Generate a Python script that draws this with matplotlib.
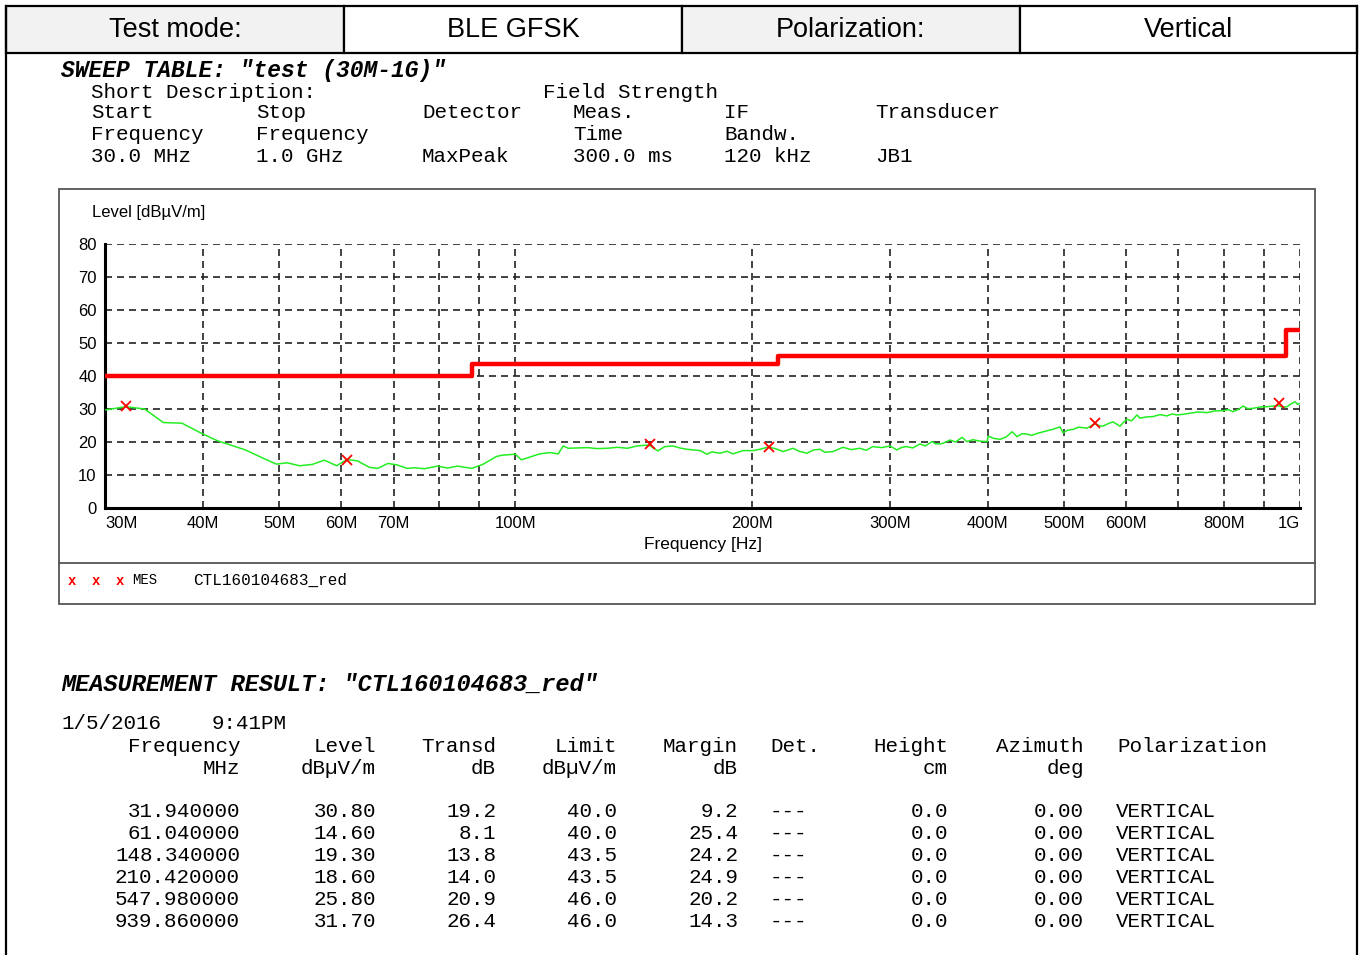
import matplotlib
matplotlib.use("Agg")
import matplotlib.pyplot as plt
from matplotlib.patches import Rectangle
from matplotlib.ticker import FixedLocator, NullLocator

W, H = 1362, 955

# header cells
head_labels = ["Test mode:", "BLE GFSK", "Polarization:", "Vertical"]

trace_freq = [30.0, 31.9, 33.7, 35.6, 37.6, 40.0, 41.7, 45.3, 47.6, 49.6,
              51.2, 53.1, 55.1, 57.1, 59.2, 61.0, 62.9, 65.2, 66.8, 68.8,
              70.6, 72.8, 74.3, 76.6, 79.6, 82.0, 84.4, 88.0, 90.9, 94.6,
              96.2, 100.0, 101.8, 107.4, 110.7, 113.4, 115.1, 116.8, 123.6, 127.0,
              131.0, 135.0, 138.9, 142.9, 148.0, 151.9, 155.1, 158.8, 162.0, 165.4,
              172.0, 175.5, 178.0, 182.4, 186.0, 189.4, 195.1, 200.9, 205.0, 210.4,
              215.0, 219.4, 225.9, 230.0, 235.4, 240.0, 244.5, 248.0, 254.0, 261.5,
              268.0, 274.8, 280.0, 285.5, 293.0, 300.3, 306.4, 311.0, 315.5, 321.0,
              327.8, 333.0, 339.6, 343.0, 347.6, 350.8, 358.1, 364.0, 370.9, 376.4,
              383.0, 390.0, 399.3, 400.5, 407.0, 414.8, 422.0, 429.7, 436.0, 442.0,
              448.9, 455.0, 462.2, 469.0, 476.0, 485.0, 494.5, 498.9, 506.0, 513.8,
              522.0, 535.3, 548.0, 555.0, 561.0, 570.0, 577.7, 589.7, 596.0, 601.9,
              610.0, 619.8, 625.3, 637.0, 649.6, 663.0, 676.9, 687.0, 697.0, 710.0,
              724.1, 742.0, 761.2, 779.0, 797.9, 810.0, 821.6, 835.0, 846.1, 858.0,
              871.3, 889.0, 907.8, 925.0, 939.9, 950.0, 962.7, 975.0, 985.5, 993.0,
              1000.0]
trace_level = [29.7, 30.7, 30.0, 25.9, 25.7, 22.4, 20.4, 17.6, 15.2, 13.3,
               13.7, 12.8, 13.2, 14.5, 12.8, 14.7, 14.3, 12.3, 12.0, 13.5,
               13.1, 12.0, 12.2, 11.9, 12.7, 12.1, 12.7, 12.0, 13.2, 15.6,
               16.0, 16.3, 14.6, 16.4, 16.8, 16.4, 18.8, 18.1, 18.3, 18.0,
               18.1, 18.4, 18.1, 18.8, 19.1, 17.3, 18.6, 18.8, 18.2, 17.8,
               17.4, 16.3, 17.0, 16.6, 17.2, 16.4, 17.4, 17.4, 17.8, 18.5,
               17.9, 17.1, 18.1, 17.2, 16.6, 17.6, 17.8, 16.9, 17.1, 18.4,
               17.7, 18.1, 17.5, 18.6, 18.3, 18.8, 17.6, 18.4, 18.6, 18.2,
               19.4, 18.8, 20.1, 19.5, 19.4, 19.6, 20.6, 20.0, 21.4, 20.1,
               20.7, 20.3, 20.1, 21.8, 21.1, 20.8, 21.5, 23.1, 21.6, 22.5,
               22.4, 22.0, 22.6, 23.0, 23.4, 23.9, 24.6, 22.8, 23.6, 23.8,
               24.5, 24.2, 25.6, 24.9, 24.8, 25.6, 26.1, 24.8, 26.0, 26.9,
               26.4, 28.2, 27.2, 27.6, 27.7, 28.3, 27.9, 28.5, 28.2, 28.4,
               28.7, 29.1, 28.9, 29.4, 29.5, 29.8, 29.2, 29.9, 30.9, 30.1,
               30.2, 30.6, 30.7, 30.9, 31.0, 30.5, 30.7, 31.6, 32.2, 31.4,
               31.7]

# limit line (FCC class B, 3 m)
limit_freq = [30, 88, 216, 960, 1000]
limit_level = [40, 43.5, 46, 54, 54]

# final measurement table
mes_freq = [31.94, 61.04, 148.34, 210.42, 547.98, 939.86]
mes_level = [30.80, 14.60, 19.30, 18.60, 25.80, 31.70]
mes_transd = [19.2, 8.1, 13.8, 14.0, 20.9, 26.4]
mes_limit = [40.0, 40.0, 43.5, 43.5, 46.0, 46.0]
mes_margin = [9.2, 25.4, 24.2, 24.9, 20.2, 14.3]

grid_freq = [40, 50, 60, 70, 80, 90, 100, 200, 300, 400, 500, 600, 700, 800, 900, 1000]
tick_freq = [30, 40, 50, 60, 70, 100, 200, 300, 400, 500, 600, 800, 1000]
tick_text = ["30M", "40M", "50M", "60M", "70M", "100M", "200M", "300M",
             "400M", "500M", "600M", "800M", "1G"]

narrow = ["Liberation Sans Narrow", "Liberation Sans", "DejaVu Sans"]
mono = ["Liberation Mono", "DejaVu Sans Mono"]
sans = ["Liberation Sans", "DejaVu Sans"]

fig = plt.figure(figsize=(W / 100, H / 100), dpi=100)
bg = fig.add_axes([0, 0, 1, 1])
bg.set_xlim(0, W)
bg.set_ylim(H, 0)
bg.axis("off")

# page frame + header table
bg.plot([6, 6], [6, H], color="black", lw=1.6)
bg.plot([1357, 1357], [6, H], color="black", lw=1.6)
cells = [6, 344, 682, 1020, 1357]
for i, lab in enumerate(head_labels):
    fc = "#f2f2f2" if i % 2 == 0 else "white"
    bg.add_patch(Rectangle((cells[i], 6), cells[i + 1] - cells[i], 47,
                           facecolor=fc, edgecolor="black", lw=1.6))
    bg.text((cells[i] + cells[i + 1]) / 2, 30, lab, fontsize=19.5, family=narrow,
            ha="center", va="center")

# sweep table text
def mtxt(x, y, s, size=15, **kw):
    bg.text(x, y, s, fontsize=size, family=mono, va="center", **kw)

mtxt(61, 70, 'SWEEP TABLE: "test (30M-1G)"', size=16.5, weight="bold", style="italic")
mtxt(91, 92, "Short Description:")
mtxt(543, 92, "Field Strength")
for x, s in zip([91, 256, 422, 573, 724, 875],
                ["Start", "Stop", "Detector", "Meas.", "IF", "Transducer"]):
    mtxt(x, 113, s)
for x, s in zip([91, 256, 573, 724], ["Frequency", "Frequency", "Time", "Bandw."]):
    mtxt(x, 135, s)
for x, s in zip([91, 256, 422, 573, 724, 875],
                ["30.0 MHz", "1.0 GHz", "MaxPeak", "300.0 ms", "120 kHz", "JB1"]):
    mtxt(x, 157, s)

# chart frame and legend strip
bg.add_patch(Rectangle((59, 189), 1256, 415, facecolor="none", edgecolor="#555555", lw=1.3))
bg.plot([59, 1315], [563, 563], color="#555555", lw=1.3)
for x in [72, 96, 120]:
    bg.text(x, 581, "x", color="red", fontsize=10, family=mono, weight="bold",
            ha="center", va="center")
mtxt(132, 580, "MES", size=10)
mtxt(193, 580, "CTL160104683_red", size=11.5)
bg.text(92, 212, "Level [dB\u00b5V/m]", fontsize=12, family=sans, va="center")
bg.text(703, 544, "Frequency [Hz]", fontsize=12.5, family=sans, ha="center", va="center")

# plot
ax = fig.add_axes([105 / W, 1 - 508 / H, 1195 / W, 264 / H])
ax.set_xscale("log")
ax.set_xlim(30, 1000)
ax.set_ylim(0, 80)
for f in grid_freq:
    ax.axvline(f, color="#222222", lw=1.2, linestyle=(0, (4.2, 3)), zorder=1)
for lv in range(10, 90, 10):
    ax.axhline(lv, color="#222222", lw=1.2, linestyle=(0, (4.2, 3)), zorder=1)
ax.plot(limit_freq, limit_level, color="red", lw=3.2, drawstyle="steps-post", zorder=3)
ax.plot(trace_freq, trace_level, color="#22ee22", lw=1.1, zorder=4)
ax.plot(mes_freq, mes_level, "x", color="red", ms=7, mew=1.3, zorder=5)

ax.xaxis.set_major_locator(FixedLocator(tick_freq))
ax.xaxis.set_minor_locator(NullLocator())
ax.set_xticklabels(tick_text)
ax.set_yticks(range(0, 90, 10))
ax.tick_params(length=0, labelsize=12, colors="black")
ax.tick_params(axis="x", pad=6)
ax.tick_params(axis="y", pad=6)
for lab in ax.get_xticklabels() + ax.get_yticklabels():
    lab.set_family(sans)
xl = ax.get_xticklabels()
xl[0].set_ha("left")
xl[-1].set_ha("right")
for s in ["top", "right"]:
    ax.spines[s].set_visible(False)
for s in ["left", "bottom"]:
    ax.spines[s].set_linewidth(2.2)
ax.patch.set_alpha(0)

# measurement result
mtxt(61, 684, 'MEASUREMENT RESULT: "CTL160104683_red"', size=17, weight="bold", style="italic")
mtxt(61, 723, "1/5/2016", size=15)
mtxt(212, 723, "9:41PM", size=15)
heads = [("Frequency", "MHz", 240), ("Level", "dB\u00b5V/m", 376), ("Transd", "dB", 496),
         ("Limit", "dB\u00b5V/m", 617), ("Margin", "dB", 738), ("Height", "cm", 948),
         ("Azimuth", "deg", 1084)]
for a, b, x in heads:
    mtxt(x, 746, a, ha="right")
    mtxt(x, 768, b, ha="right")
mtxt(770, 746, "Det.")
mtxt(1117, 746, "Polarization")
for i in range(len(mes_freq)):
    y = 811 + 22 * i
    mtxt(240, y, "%.6f" % mes_freq[i], ha="right")
    mtxt(376, y, "%.2f" % mes_level[i], ha="right")
    mtxt(496, y, "%.1f" % mes_transd[i], ha="right")
    mtxt(617, y, "%.1f" % mes_limit[i], ha="right")
    mtxt(738, y, "%.1f" % mes_margin[i], ha="right")
    mtxt(770, y, "---")
    mtxt(948, y, "0.0", ha="right")
    mtxt(1084, y, "0.00", ha="right")
    mtxt(1116, y, "VERTICAL")

fig.savefig("out.png", dpi=100)
